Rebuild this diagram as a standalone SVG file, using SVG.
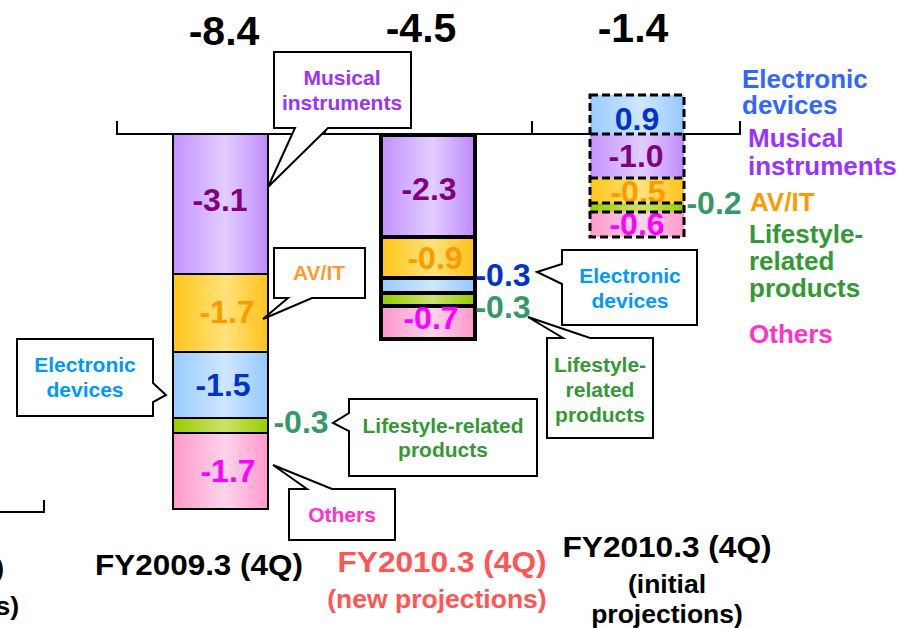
<svg xmlns="http://www.w3.org/2000/svg" width="902" height="628" viewBox="0 0 902 628">
<defs>
<linearGradient id="gP" x1="0" y1="0" x2="1" y2="0"><stop offset="0" stop-color="#c493ff"/><stop offset="0.55" stop-color="#e2cdff"/><stop offset="1" stop-color="#c08cff"/></linearGradient>
<linearGradient id="gO" x1="0" y1="0" x2="1" y2="0"><stop offset="0" stop-color="#ffc61a"/><stop offset="0.55" stop-color="#ffe27a"/><stop offset="1" stop-color="#ffc21a"/></linearGradient>
<linearGradient id="gB" x1="0" y1="0" x2="1" y2="0"><stop offset="0" stop-color="#99ccff"/><stop offset="0.55" stop-color="#cfe7ff"/><stop offset="1" stop-color="#94c8ff"/></linearGradient>
<linearGradient id="gG" x1="0" y1="0" x2="1" y2="0"><stop offset="0" stop-color="#99cc00"/><stop offset="0.55" stop-color="#cbe36a"/><stop offset="1" stop-color="#99cc00"/></linearGradient>
<linearGradient id="gK" x1="0" y1="0" x2="1" y2="0"><stop offset="0" stop-color="#ff99cc"/><stop offset="0.55" stop-color="#ffd3ea"/><stop offset="1" stop-color="#ff99cc"/></linearGradient>
</defs>
<style>
text{font-family:"Liberation Sans",Arial,sans-serif;font-weight:bold}
.axis{stroke:#000;stroke-width:2;fill:none}
.seg1{stroke:#000;stroke-width:2}
.dash{fill:none;stroke:#000;stroke-width:3;stroke-dasharray:8 4}
.call{fill:#fff;stroke:#000;stroke-width:2;stroke-linejoin:miter}
.tot{font-size:41px;fill:#000;text-anchor:middle}
.val{font-size:32px;text-anchor:middle}
.lab{font-size:21px;text-anchor:middle}
.leg{font-size:26px}
.ttl{font-size:30px;text-anchor:middle}
.sub{font-size:26.5px;text-anchor:middle}
.pu{fill:#800080}.or{fill:#ff9900}.bl{fill:#0033cc}.mg{fill:#ff00ff}.sg{fill:#339966}
</style>

<g id="axes">
<path class="axis" d="M117,121 V134 H740 V121 M325,121 V134 M532,121 V134"/>
<path class="axis" d="M0,512 H44 V500"/>
</g>

<g id="totals">
<text class="tot" x="224" y="45">-8.4</text>
<text class="tot" x="421" y="42">-4.5</text>
<text class="tot" x="633" y="42">-1.4</text>
</g>

<g id="bar-fy2009">
<rect class="seg1" x="173" y="134" width="95" height="140" fill="url(#gP)"/>
<rect class="seg1" x="173" y="274" width="95" height="78" fill="url(#gO)"/>
<rect class="seg1" x="173" y="352" width="95" height="66" fill="url(#gB)"/>
<rect class="seg1" x="173" y="418" width="95" height="15" fill="url(#gG)"/>
<rect class="seg1" x="173" y="433" width="95" height="76" fill="url(#gK)"/>
<text class="val pu" x="220" y="211">-3.1</text>
<text class="val or" x="227" y="323">-1.7</text>
<text class="val bl" x="223" y="396">-1.5</text>
<text class="val mg" x="228" y="482">-1.7</text>
<text class="val sg" x="301" y="433">-0.3</text>
</g>

<g id="bar-fy2010-new">
<rect x="379" y="133" width="98" height="208" fill="#000"/>
<rect x="383" y="137" width="90" height="98" fill="url(#gP)"/>
<rect x="383" y="239" width="90" height="37" fill="url(#gO)"/>
<rect x="383" y="280" width="90" height="11" fill="url(#gB)"/>
<rect x="383" y="295" width="90" height="9" fill="url(#gG)"/>
<rect x="383" y="308" width="90" height="29" fill="url(#gK)"/>
<text class="val pu" x="429" y="200">-2.3</text>
<text class="val or" x="435" y="269">-0.9</text>
<text class="val mg" x="431" y="329">-0.7</text>
<text class="val bl" x="503" y="286">-0.3</text>
<text class="val sg" x="503" y="318">-0.3</text>
</g>

<g id="bar-fy2010-initial">
<rect x="590" y="95" width="94" height="39" fill="url(#gB)"/>
<rect x="590" y="134" width="94" height="44" fill="url(#gP)"/>
<rect x="590" y="178" width="94" height="25" fill="url(#gO)"/>
<rect x="590" y="203" width="94" height="9" fill="url(#gG)"/>
<rect x="590" y="212" width="94" height="25" fill="url(#gK)"/>
<text class="val bl" x="637" y="130">0.9</text>
<text class="val pu" x="636" y="167">-1.0</text>
<text class="val or" x="638" y="203">-0.5</text>
<text class="val mg" x="637" y="235">-0.6</text>
<path class="dash" d="M590,134 H684 M590,178 H684 M590,203 H684 M590,212 H684"/>
<rect class="dash" x="590" y="95" width="94" height="142"/>
<text class="val sg" x="714" y="214">-0.2</text>
</g>

<g id="legend">
<text class="leg" x="742" y="88" fill="#3366ff">Electronic</text>
<text class="leg" x="742" y="114" fill="#3366ff">devices</text>
<text class="leg" x="748" y="147" fill="#9933ff">Musical</text>
<text class="leg" x="748" y="175" fill="#9933ff">instruments</text>
<text class="leg" x="750" y="211" fill="#ff9900">AV/IT</text>
<text class="leg" x="749" y="243" fill="#339933">Lifestyle-</text>
<text class="leg" x="749" y="270" fill="#339933">related</text>
<text class="leg" x="749" y="297" fill="#339933">products</text>
<text class="leg" x="749" y="343" fill="#ff33cc">Others</text>
</g>

<g id="connectors">
<g id="callout-musical">
<path class="call" d="M274,52 H411 V128 H328 L268,187 L295,128 H274 Z"/>
<text class="lab" x="342" y="85" fill="#9933ff">Musical</text>
<text class="lab" x="342" y="110" fill="#9933ff">instruments</text>
</g>
<g id="callout-avit">
<path class="call" d="M274,248 H365 V298 H312 L263,319 L288,298 H274 Z"/>
<text class="lab" x="319" y="280" fill="#ff9933">AV/IT</text>
</g>
<g id="callout-electronic-left">
<path class="call" d="M17,339 H153 V383 L166,395 L153,402 V416 H17 Z"/>
<text class="lab" x="85" y="372" fill="#0099ff">Electronic</text>
<text class="lab" x="85" y="397" fill="#0099ff">devices</text>
</g>
<g id="callout-lifestyle-left">
<path class="call" d="M349,399 H537 V476 H349 V431 L333,423 L349,413 Z"/>
<text class="lab" x="443" y="433" fill="#339933">Lifestyle-related</text>
<text class="lab" x="443" y="457" fill="#339933">products</text>
</g>
<g id="callout-others">
<path class="call" d="M289,489 H307 L273,465 L332,489 H395 V540 H289 Z"/>
<text class="lab" x="342" y="522" fill="#ff33cc">Others</text>
</g>
<g id="callout-electronic-mid">
<path class="call" d="M562,250 H697 V325 H562 V284 L537,272 L562,264 Z"/>
<text class="lab" x="630" y="283" fill="#0099ff">Electronic</text>
<text class="lab" x="630" y="308" fill="#0099ff">devices</text>
</g>
<g id="callout-lifestyle-mid">
<path class="call" d="M547,338 H563 L528,317 L590,338 H653 V438 H547 Z"/>
<text class="lab" x="600" y="372" fill="#339933">Lifestyle-</text>
<text class="lab" x="600" y="397" fill="#339933">related</text>
<text class="lab" x="600" y="422" fill="#339933">products</text>
</g>
</g>

<g id="titles">
<text class="ttl" x="199" y="575" textLength="208" lengthAdjust="spacingAndGlyphs" fill="#000">FY2009.3 (4Q)</text>
<text class="ttl" x="442" y="572" textLength="209" lengthAdjust="spacingAndGlyphs" fill="#ff5555">FY2010.3 (4Q)</text>
<text class="sub" x="437" y="608" fill="#ff5555">(new projections)</text>
<text class="ttl" x="667" y="557" textLength="209" lengthAdjust="spacingAndGlyphs" fill="#000">FY2010.3 (4Q)</text>
<text class="sub" x="667" y="593" fill="#000">(initial</text>
<text class="sub" x="667" y="623" fill="#000">projections)</text>
<text class="sub" x="4" y="577" style="text-anchor:end" fill="#000">)</text>
<text class="sub" x="19" y="615" style="text-anchor:end" fill="#000">s)</text>
</g>
</svg>
